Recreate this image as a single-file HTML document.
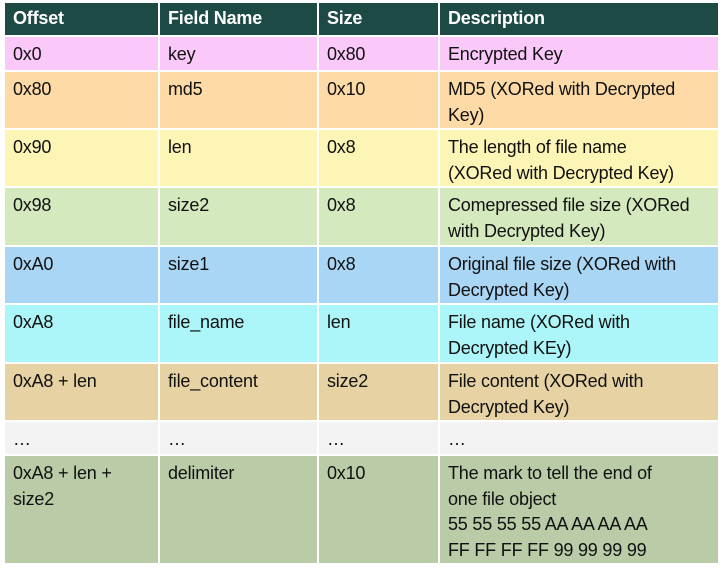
<!DOCTYPE html>
<html><head><style>
body{margin:0;width:723px;height:568px;background:#fff;position:relative;overflow:hidden;font-family:"Liberation Sans",sans-serif;}
.c{position:absolute;box-sizing:border-box;padding:5px 8px 0 8px;font-size:18px;line-height:25.5px;color:#111;letter-spacing:-0.2px;white-space:nowrap;}
.h{background:#1d4a45;color:#fff;font-weight:bold;}
</style></head><body>
<div id="t"></div>
<script>
const cols=[[5,153],[160,157],[319,119],[440,278]];
const rows=[
[3,32,'h',['Offset','Field Name','Size','Description']],
[37,33,'#fbc9f9',['0x0','key','0x80','Encrypted Key']],
[72,56,'#fddaa6',['0x80','md5','0x10','MD5 (XORed with Decrypted<br>Key)']],
[130,56,'#fdf5b5',['0x90','len','0x8','The length of file name<br>(XORed with Decrypted Key)']],
[188,57,'#d4e9bd',['0x98','size2','0x8','Comepressed file size (XORed<br>with Decrypted Key)']],
[247,56,'#aad6f5',['0xA0','size1','0x8','Original file size (XORed with<br>Decrypted Key)']],
[305,57,'#acf5f8',['0xA8','file_name','len','File name (XORed with<br>Decrypted KEy)']],
[364,56,'#e6d2a3',['0xA8 + len','file_content','size2','File content (XORed with<br>Decrypted Key)']],
[422,32,'#f3f3f3',['…','…','…','…']],
[456,107,'#b9cba7',['0xA8 + len +<br>size2','delimiter','0x10','The mark to tell the end of<br>one file object<br>55 55 55 55 AA AA AA AA<br>FF FF FF FF 99 99 99 99']]
];
let h='';
for(const r of rows){for(let i=0;i<4;i++){
const st=r[2]=='h'?'':'background:'+r[2]+';';
h+=`<div class="c ${r[2]=='h'?'h':''}" style="${st}left:${cols[i][0]}px;width:${cols[i][1]}px;top:${r[0]}px;height:${r[1]}px;${r[2]=='h'?'padding-top:3px;':''}">${r[3][i]}</div>`;}}
document.getElementById('t').innerHTML=h;
</script>
</body></html>
